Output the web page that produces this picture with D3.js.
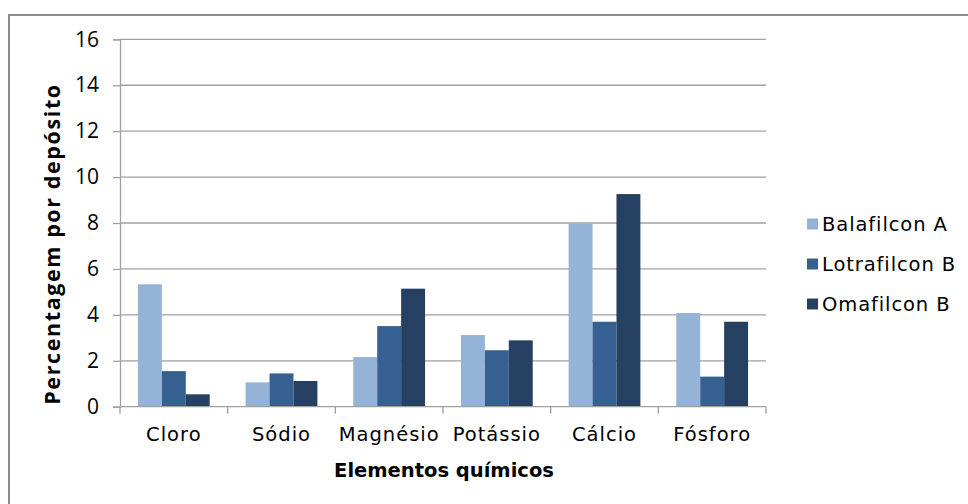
<!DOCTYPE html>
<html>
<head>
<meta charset="utf-8">
<script src="https://cdn.jsdelivr.net/npm/d3@7"></script>
<style>
  html, body { margin: 0; padding: 0; background: #fff; }
  svg { display: block; }
  .ytick text { font-family: "Open Sans", sans-serif; font-size: 21px; fill: #000; }
  .xtick text { font-family: "DejaVu Sans", sans-serif; font-size: 19.5px; letter-spacing: 1px; fill: #000; }
  .legend text { font-family: "DejaVu Sans", sans-serif; font-size: 19.5px; letter-spacing: 0.9px; fill: #000; }
</style>
</head>
<body>
<svg id="chart" width="968" height="504"></svg>
<script>
// Elementos químicos e percentagem de cada um nos depósitos das lentes
const categories = ["Cloro", "Sódio", "Magnésio", "Potássio", "Cálcio", "Fósforo"];
const seriesNames = ["Balafilcon A", "Lotrafilcon B", "Omafilcon B"];
const balafilconA = [5.33, 1.06, 2.16, 3.12, 7.99, 4.08];
const lotrafilconB = [1.55, 1.45, 3.51, 2.46, 3.70, 1.31];
const omafilconB = [0.54, 1.12, 5.14, 2.89, 9.26, 3.70];
const yTicks = [0, 2, 4, 6, 8, 10, 12, 14, 16];
const colors = ["#95B3D7", "#376092", "#254061"];

const seriesValues = [balafilconA, lotrafilconB, omafilconB];

const svg = d3.select("#chart");

// Moldura do gráfico
svg.append("rect")
  .attr("x", 9).attr("y", 15)
  .attr("width", 980).attr("height", 520)
  .attr("fill", "#fff")
  .attr("stroke", "#8c8c8c")
  .attr("stroke-width", 2);

const plot = { left: 120, right: 766, top: 39.3, bottom: 406.7 };

const x0 = d3.scaleBand()
  .domain(categories)
  .range([plot.left, plot.right])
  .padding(0);

const x1 = d3.scaleBand()
  .domain(seriesNames)
  .range([0, x0.bandwidth()])
  .paddingInner(0)
  .paddingOuter(0.75);

const y = d3.scaleLinear()
  .domain([0, 16])
  .range([plot.bottom, plot.top]);

// Linhas de grade
svg.append("g")
  .selectAll("line")
  .data(yTicks.filter(d => d > 0))
  .join("line")
  .attr("x1", plot.left).attr("x2", plot.right)
  .attr("y1", d => y(d)).attr("y2", d => y(d))
  .attr("stroke", "#a0a0a0")
  .attr("stroke-width", 1.3);

// Barras
const groups = svg.append("g")
  .selectAll("g")
  .data(categories)
  .join("g")
  .attr("transform", d => `translate(${x0(d)},0)`);

groups.selectAll("rect")
  .data((c, i) => seriesNames.map((s, j) => ({ s, j, v: seriesValues[j][i] })))
  .join("rect")
  .attr("x", d => x1(d.s))
  .attr("width", x1.bandwidth())
  .attr("y", d => y(d.v))
  .attr("height", d => y(0) - y(d.v))
  .attr("fill", d => colors[d.j]);

// Eixo Y
const yAxis = svg.append("g")
  .attr("class", "ytick")
  .attr("transform", `translate(${plot.left},0)`)
  .call(d3.axisLeft(y).tickValues(yTicks).tickSize(7).tickPadding(14).tickFormat(d3.format("d")));
yAxis.select(".domain").attr("stroke", "#a0a0a0").attr("stroke-width", 1.3);
yAxis.selectAll(".tick line").attr("stroke", "#a0a0a0").attr("stroke-width", 1.3);

// Eixo X: marcas nas divisões entre categorias
const xAxisG = svg.append("g").attr("class", "xtick");
xAxisG.append("line")
  .attr("x1", plot.left).attr("x2", plot.right)
  .attr("y1", plot.bottom).attr("y2", plot.bottom)
  .attr("stroke", "#a0a0a0").attr("stroke-width", 1.3);
const boundaries = categories.map(c => x0(c)).concat([x0(categories[categories.length - 1]) + x0.bandwidth()]);
xAxisG.selectAll("line.tk")
  .data(boundaries)
  .join("line")
  .attr("class", "tk")
  .attr("x1", d => d).attr("x2", d => d)
  .attr("y1", plot.bottom).attr("y2", plot.bottom + 7)
  .attr("stroke", "#a0a0a0").attr("stroke-width", 1.3);
xAxisG.selectAll("text")
  .data(categories)
  .join("text")
  .attr("x", d => x0(d) + x0.bandwidth() / 2)
  .attr("y", 441)
  .attr("text-anchor", "middle")
  .text(d => d);

// Títulos dos eixos
svg.append("text")
  .attr("x", (plot.left + plot.right) / 2 + 1)
  .attr("y", 477)
  .attr("text-anchor", "middle")
  .style("font-family", "'DejaVu Sans', sans-serif")
  .style("font-weight", "bold")
  .style("font-size", "19.5px")
  .text("Elementos químicos");

svg.append("text")
  .attr("transform", "translate(60,244) rotate(-90)")
  .attr("text-anchor", "middle")
  .style("font-family", "'Open Sans', sans-serif")
  .style("font-weight", "bold")
  .style("font-size", "21.5px")
  .style("letter-spacing", "1.6px")
  .text("Percentagem por depósito");

// Legenda
const legend = svg.append("g").attr("class", "legend");
const legendRows = legend.selectAll("g")
  .data(seriesNames)
  .join("g")
  .attr("transform", (d, i) => `translate(807,${224 + i * 40})`);
legendRows.append("rect")
  .attr("x", 0).attr("y", -5.5)
  .attr("width", 11).attr("height", 11)
  .attr("fill", (d, i) => colors[i]);
legendRows.append("text")
  .attr("x", 15).attr("y", 7)
  .text(d => d);
</script>
</body>
</html>
